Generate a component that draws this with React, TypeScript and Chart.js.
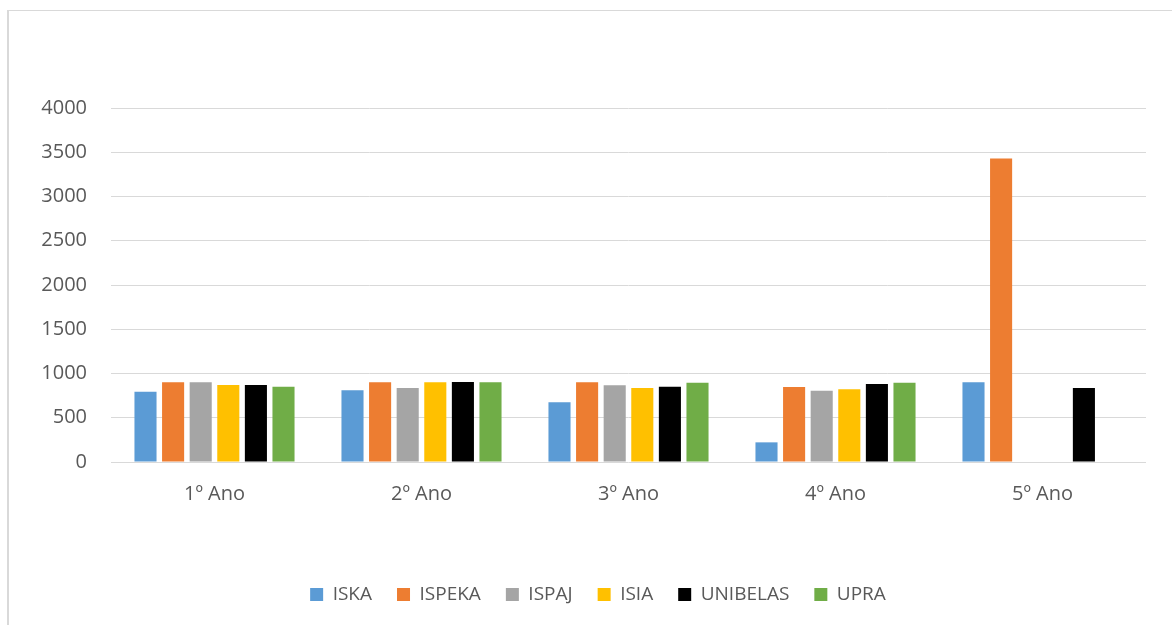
import React, { useEffect, useRef } from "react";
import { Chart, registerables } from "chart.js";

Chart.register(...registerables);

const categories = ["1º Ano", "2º Ano", "3º Ano", "4º Ano", "5º Ano"];
const seriesNames = ["ISKA", "ISPEKA", "ISPAJ", "ISIA", "UNIBELAS", "UPRA"];
const iska = [795, 810, 675, 222, 900];
const ispeka = [900, 900, 900, 847, 3430];
const ispaj = [900, 836, 867, 806, null];
const isia = [870, 900, 836, 821, null];
const unibelas = [870, 903, 851, 881, 836];
const upra = [851, 900, 896, 896, null];
const seriesValues = [iska, ispeka, ispaj, isia, unibelas, upra];
const seriesColors = ["#5B9BD5", "#ED7D31", "#A5A5A5", "#FFC000", "#000000", "#70AD47"];
const yMin = 0;
const yMax = 4000;
const yStep = 500;

const CANVAS_W = 1163;
const CANVAS_H = 614;
const LEGEND_SHIFT = 20.5;

const shiftLegend = {
  id: "shiftLegend",
  afterLayout(chart: any) {
    const l = chart.legend;
    if (l) {
      l.left += LEGEND_SHIFT;
      l.right += LEGEND_SHIFT;
    }
  },
};

export default function App() {
  const ref = useRef<HTMLCanvasElement | null>(null);

  useEffect(() => {
    if (!ref.current) return;
    const chart = new Chart(ref.current, {
      type: "bar",
      data: {
        labels: categories,
        datasets: seriesNames.map((name, i) => ({
          label: name,
          data: seriesValues[i],
          backgroundColor: seriesColors[i],
          borderWidth: 0,
          categoryPercentage: 0.8,
          barPercentage: 0.8,
        })),
      },
      plugins: [shiftLegend],
      options: {
        animation: false,
        responsive: false,
        devicePixelRatio: 1,
        layout: { padding: { left: 0, right: 26, top: 97, bottom: 11 } },
        plugins: {
          tooltip: { enabled: false },
          legend: {
            position: "bottom",
            labels: {
              boxWidth: 13,
              boxHeight: 13,
              padding: 25,
              color: "#595959",
              font: { family: "'Open Sans', sans-serif", size: 19 },
            },
          },
        },
        scales: {
          x: {
            grid: { display: false, drawTicks: false },
            border: { display: false },
            ticks: {
              color: "#595959",
              padding: 20,
              font: { family: "'Open Sans', sans-serif", size: 20 },
            },
            afterFit: (scale: any) => {
              scale.height = 98;
            },
          },
          y: {
            min: yMin,
            max: yMax,
            grid: { color: "#d9d9d9", lineWidth: 1, drawTicks: false },
            border: { display: false },
            ticks: {
              stepSize: yStep,
              color: "#595959",
              padding: 24,
              font: { family: "'Open Sans', sans-serif", size: 20 },
              callback: (v: any) => String(v),
            },
            afterFit: (scale: any) => {
              scale.width = 102;
            },
          },
        },
      },
    });
    return () => chart.destroy();
  }, []);

  return (
    <div style={{ position: "absolute", left: 0, top: 0, width: 1172, height: 625, overflow: "hidden", background: "#fff" }}>
      <div
        style={{
          position: "absolute",
          left: 7,
          top: 10,
          right: 0,
          bottom: 0,
          borderLeft: "2px solid #d9d9d9",
          borderTop: "1px solid #d9d9d9",
        }}
      >
        <canvas ref={ref} width={CANVAS_W} height={CANVAS_H} style={{ position: "absolute", left: 0, top: 0, width: CANVAS_W, height: CANVAS_H }} />
      </div>
    </div>
  );
}
